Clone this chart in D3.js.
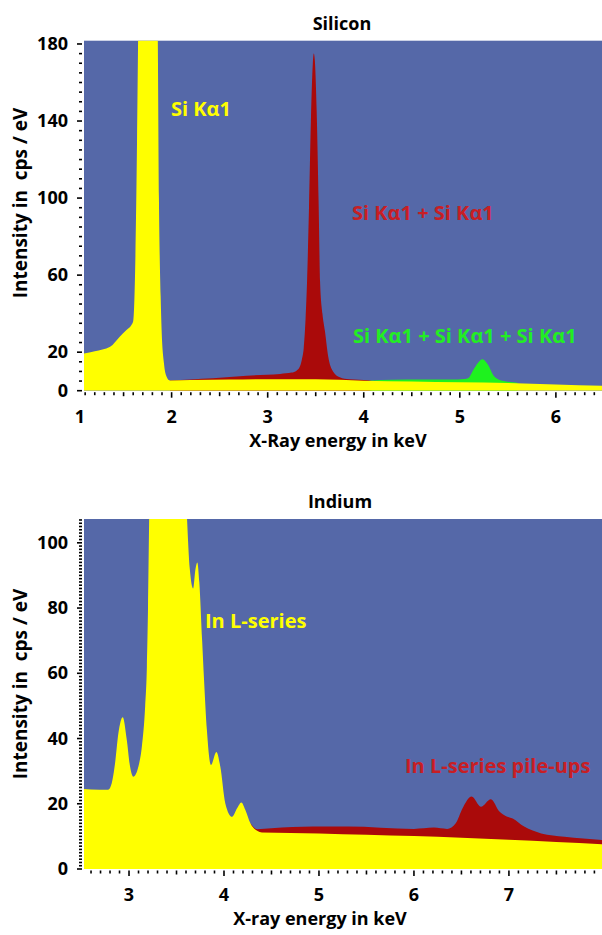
<!DOCTYPE html>
<html>
<head>
<meta charset="utf-8">
<script src="https://cdn.jsdelivr.net/npm/d3@7"></script>
<style>
	body { margin: 0; background: #fff; }
	text { font-family: "Open Sans", "Noto Sans", sans-serif; }
</style>
</head>
<body>
<svg id="chart"></svg>
<script>
	// Silicon spectrum, [keV, cps/eV]
	var siMain = [
		[1.05, 19], [1.2, 20.5], [1.36, 22.8], [1.46, 28], [1.53, 31.5], [1.58, 34], [1.6, 36],
		[1.62, 62], [1.64, 130], [1.655, 200], [1.7, 320], [1.75, 360], [1.8, 330],
		[1.855, 190], [1.868, 100], [1.886, 49], [1.896, 31.5], [1.92, 14.4], [1.948, 7.3],
		[1.983, 5.3], [2.2, 5.5], [2.6, 5.8], [3.0, 6.0], [3.5, 5.9], [4.0, 5.2],
		[4.5, 4.8], [5.0, 4.4], [5.5, 4.0], [6.0, 3.2], [6.5, 2.5]
	];
	var siDouble = [
		[1.983, 5.3], [2.2, 5.8], [2.43, 6.4], [2.78, 7.8], [3.13, 8.7], [3.25, 9.4], [3.3, 10.4],
		[3.33, 12], [3.355, 16], [3.375, 22], [3.395, 38], [3.41, 57], [3.43, 95], [3.45, 140],
		[3.47, 170], [3.48, 175], [3.49, 172], [3.51, 145], [3.53, 98], [3.545, 57], [3.57, 40],
		[3.596, 31], [3.63, 17.7], [3.68, 10], [3.75, 7], [3.8, 6.2], [3.9, 5.8], [4.0, 5.5], [4.08, 5.2]
	];
	var siTriple = [
		[4.06, 5.2], [4.3, 5.7], [4.6, 5.8], [4.9, 5.8], [5.05, 6.1], [5.09, 6.6], [5.14, 10.7],
		[5.19, 14.5], [5.236, 16.3], [5.27, 15], [5.295, 13.3], [5.347, 8.2], [5.38, 6.4],
		[5.417, 5.5], [5.5, 4.6], [5.6, 4.1]
	];

	// Indium spectrum
	var inMain = [
		[2.52, 24.5], [2.6, 24.4], [2.78, 24.3], [2.818, 26.3], [2.853, 32.4], [2.888, 41.6],
		[2.934, 46.5], [2.977, 39.5], [3.011, 31.4], [3.046, 28.3], [3.099, 31.4], [3.135, 37.5],
		[3.17, 50], [3.188, 62], [3.2, 80], [3.212, 107], [3.225, 132], [3.28, 170], [3.35, 160],
		[3.45, 180], [3.52, 170], [3.58, 130], [3.61, 108], [3.64, 92], [3.676, 86],
		[3.7, 92], [3.719, 94], [3.74, 88], [3.77, 70], [3.79, 58], [3.82, 42.6],
		[3.863, 31.9], [3.92, 35.9], [3.961, 31.4], [4.014, 20.1], [4.085, 16], [4.138, 18.6],
		[4.183, 20.4], [4.225, 18.1], [4.278, 14], [4.349, 11.7], [4.4, 11.2], [5.0, 10.9],
		[5.5, 10.5], [6.0, 10.1], [6.5, 9.6], [7.0, 9.0], [7.5, 8.3], [7.99, 7.6]
	];
	var inPileup = [
		[4.278, 14], [4.349, 12.2], [4.5, 12.5], [4.94, 13.0], [5.3, 13.0], [6.0, 12.3], [6.21, 12.7],
		[6.35, 12.3], [6.44, 14], [6.512, 18.6], [6.607, 22.2], [6.705, 19.1], [6.81, 21.4],
		[6.9, 17.6], [6.97, 16.2], [7.04, 15.5], [7.16, 13], [7.34, 10.9], [7.585, 9.9], [7.99, 8.9]
	];

	var siXTicks = [1, 2, 3, 4, 5, 6],
		siYTicks = [0, 20, 60, 100, 140, 180],
		inXTicks = [3, 4, 5, 6, 7],
		inYTicks = [0, 20, 40, 60, 80, 100];

	var blue = '#5568a8',
		yellow = '#ffff00',
		darkRed = '#aa0a0a',
		green = '#1ef21e';

	var svg = d3.select('#chart')
		.attr('width', 602)
		.attr('height', 935);

	var drawPanel = function (p) {
		/// Draw one spectrum panel

		var x = d3.scaleLinear().domain(p.xDomain).range([p.left, p.right]),
			y = d3.scaleLinear().domain(p.yDomain).range([p.bottom, p.top]),
			g = svg.append('g');

		g.append('clipPath')
			.attr('id', p.id + '-clip')
			.append('rect')
				.attr('x', p.left)
				.attr('y', p.top)
				.attr('width', p.right - p.left)
				.attr('height', p.bottom - p.top);

		g.append('rect')
			.attr('x', p.left)
			.attr('y', p.top)
			.attr('width', p.right - p.left)
			.attr('height', p.bottom - p.top)
			.style('fill', blue);

		var area = d3.area()
			.x(function (d) {return x(d[0]);})
			.y0(y(0))
			.y1(function (d) {return y(d[1]);})
			.curve(d3.curveMonotoneX);

		var plot = g.append('g').attr('clip-path', 'url(#' + p.id + '-clip)');
		p.series.forEach(function (s) {
			plot.append('path')
				.datum(s.data)
				.attr('d', area)
				.style('fill', s.colour);
		});

		// x ticks every 0.1 keV
		var xMinor = d3.range(Math.ceil(p.xDomain[0] * 10), Math.floor(p.xDomain[1] * 10) + 1)
			.map(function (v) {return v / 10;});
		g.append('g').selectAll('line')
			.data(xMinor).enter()
			.append('line')
				.attr('x1', function (d) {return x(d);})
				.attr('x2', function (d) {return x(d);})
				.attr('y1', p.bottom + 1.5)
				.attr('y2', function (d) {
					var t = Math.round(d * 10);
					return p.bottom + (t % 10 === 0 ? 7 : (t % 5 === 0 ? 5.5 : 4.5));
				})
				.style('stroke', '#000')
				.style('stroke-width', 1.6);

		g.append('g').selectAll('text')
			.data(p.xTicks).enter()
			.append('text')
				.attr('x', function (d) {return Math.max(x(d), p.left - 4);})
				.attr('y', p.bottom + 32)
				.attr('text-anchor', 'middle')
				.style('font-size', '18px')
				.style('font-weight', 700)
				.text(function (d) {return d;});

		// y ticks
		var yMinor = d3.range(0, p.yDomain[1], p.yStep);
		g.append('g').selectAll('line')
			.data(yMinor).enter()
			.append('line')
				.attr('x1', function (d) {return p.yTicks.indexOf(d) >= 0 ? p.left - 7 : p.left - 5;})
				.attr('x2', p.left - 2)
				.attr('y1', function (d) {return y(d);})
				.attr('y2', function (d) {return y(d);})
				.style('stroke', '#000')
				.style('stroke-width', 1.6);

		g.append('g').selectAll('text')
			.data(p.yTicks).enter()
			.append('text')
				.attr('x', p.left - 16)
				.attr('y', function (d) {return y(d) + 6;})
				.attr('text-anchor', 'end')
				.style('font-size', '18px')
				.style('font-weight', 700)
				.text(function (d) {return d;});

		g.append('text')
			.attr('x', p.titleX)
			.attr('y', p.top - 11)
			.attr('text-anchor', 'middle')
			.style('font-size', '18px')
			.style('font-weight', 700)
			.text(p.title);

		g.append('text')
			.attr('x', p.xLabelX)
			.attr('y', p.bottom + 56)
			.attr('text-anchor', 'middle')
			.style('font-size', '18px')
			.style('font-weight', 700)
			.text(p.xLabel);

		g.append('text')
			.attr('transform', 'translate(27 ' + p.yLabelY + ') rotate(-90)')
			.attr('text-anchor', 'middle')
			.style('font-size', '19px')
			.style('font-weight', 700)
			.style('white-space', 'pre')
			.text('Intensity in  cps / eV');

		p.notes.forEach(function (n) {
			g.append('text')
				.attr('x', n.x)
				.attr('y', n.y)
				.style('font-size', '20px')
				.style('font-weight', 700)
				.style('fill', n.colour)
				.text(n.text);
		});
	};

	drawPanel({
		id: 'si',
		left: 84, right: 602, top: 40.7, bottom: 390.7,
		xDomain: [1.088, 6.48], yDomain: [0, 181.7], yStep: 5,
		xTicks: siXTicks, yTicks: siYTicks,
		title: 'Silicon', titleX: 342,
		xLabel: 'X-Ray energy in keV', xLabelX: 338,
		yLabelY: 203,
		series: [
			{data: siDouble, colour: darkRed},
			{data: siTriple, colour: green},
			{data: siMain, colour: yellow}
		],
		notes: [
			{text: 'Si Kα1', x: 171, y: 116, colour: yellow},
			{text: 'Si Kα1 + Si Kα1', x: 352, y: 220, colour: '#c81e24'},
			{text: 'Si Kα1 + Si Kα1 + Si Kα1', x: 353, y: 343, colour: '#22ee22'}
		]
	});

	drawPanel({
		id: 'in',
		left: 84, right: 602, top: 519, bottom: 869,
		xDomain: [2.526, 7.98], yDomain: [0, 107.3], yStep: 1,
		xTicks: inXTicks, yTicks: inYTicks,
		title: 'Indium', titleX: 340,
		xLabel: 'X-ray energy in keV', xLabelX: 320,
		yLabelY: 684,
		series: [
			{data: inPileup, colour: darkRed},
			{data: inMain, colour: yellow}
		],
		notes: [
			{text: 'In L-series', x: 205, y: 628, colour: yellow},
			{text: 'In L-series pile-ups', x: 405, y: 773, colour: '#c81e24'}
		]
	});
</script>
</body>
</html>
